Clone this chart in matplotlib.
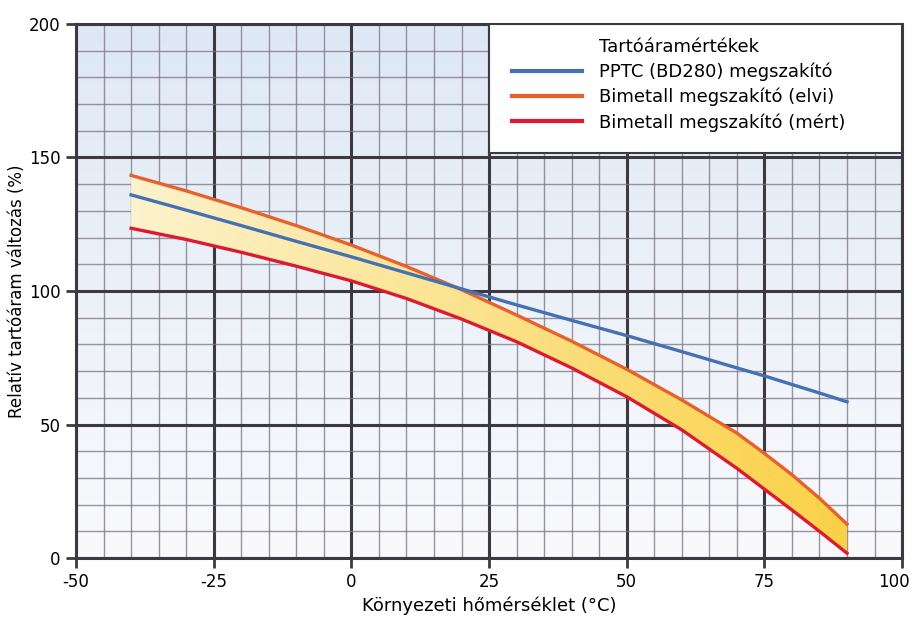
import numpy as np
import matplotlib
matplotlib.use("Agg")
from matplotlib import pyplot as plt
from matplotlib.lines import Line2D
from matplotlib.patches import Rectangle
from matplotlib.ticker import MultipleLocator
from matplotlib.transforms import ScaledTranslation

plt.rcParams['font.family'] = ['DejaVu Sans']
plt.rcParams['axes.unicode_minus'] = False

# values
temp = [-40, -30, -20, -10, 0, 10, 20, 30, 40, 50, 60, 70, 75, 80, 85, 90]
pptc = [136.0, 130.3, 124.5, 118.6, 112.8, 106.8, 100.8, 94.8, 89.0, 83.3, 77.3, 71.2, 68.2, 65.0, 61.8, 58.5]
bimetal_elvi = [143.3, 137.5, 131.2, 124.5, 117.2, 109.2, 100.5, 91.0, 81.2, 70.7, 59.2, 46.8, 39.2, 31.2, 22.4, 12.7]
bimetal_mert = [123.5, 119.3, 114.5, 109.3, 103.8, 97.2, 89.5, 81.0, 71.2, 60.4, 48.0, 33.6, 25.8, 18.0, 10.0, 1.8]

labels = ["PPTC (BD280) megszakító", "Bimetall megszakító (elvi)", "Bimetall megszakító (mért)"]
colors = ["#4470b4", "#e8602c", "#dc1a32"]
legend_title = "Tartóáramértékek"
xticks = [-50, -25, 0, 25, 50, 75, 100]
yticks = [0, 50, 100, 150, 200]

fig = plt.figure(figsize=(9.17, 6.21), dpi=100)
ax = fig.add_axes([0.0829, 0.1014, 0.9008, 0.86])
ax.set_xlim(-50, 100)
ax.set_ylim(0, 200)

# background gradient, light blue on top to near white at bottom
grad = np.linspace(0, 1, 512).reshape(-1, 1)
top = np.array([0.87, 0.91, 0.96])
bot = np.array([0.98, 0.98, 0.99])
bg = top * grad[..., None] + bot * (1 - grad[..., None])
ax.imshow(bg, extent=[0, 1, 0, 1], transform=ax.transAxes, origin="lower",
          aspect="auto", interpolation="bilinear", zorder=0)

# grid
ax.xaxis.set_major_locator(MultipleLocator(25))
ax.yaxis.set_major_locator(MultipleLocator(50))
ax.xaxis.set_minor_locator(MultipleLocator(5))
ax.yaxis.set_minor_locator(MultipleLocator(10))
ax.grid(True, which="minor", color="#78737f", lw=1.0, alpha=0.75, zorder=1)
ax.grid(True, which="major", color="#3c3a40", lw=2.2, zorder=1)
ax.set_axisbelow(True)
for s in ax.spines.values():
    s.set_color("#3c3a40")
    s.set_linewidth(2.2)

# yellow band between the bimetal curves, gradient left to right
poly = ax.fill_between(temp, bimetal_mert, bimetal_elvi, color="none", zorder=2)
hgrad = np.linspace(0, 1, 256).reshape(1, -1)
c_left = np.array([0.99, 0.95, 0.80])
c_right = np.array([0.98, 0.82, 0.28])
band = c_left * (1 - hgrad[..., None]) + c_right * hgrad[..., None]
im = ax.imshow(band, extent=[temp[0], temp[-1], 0, 200], origin="lower",
               aspect="auto", interpolation="bilinear", zorder=2)
path = poly.get_paths()[0]
im.set_clip_path(path, transform=ax.transData)

ax.plot(temp, pptc, color=colors[0], lw=2.4, zorder=4)
ax.plot(temp, bimetal_elvi, color=colors[1], lw=2.4, zorder=3)
ax.plot(temp, bimetal_mert, color=colors[2], lw=2.4, zorder=3)

ax.set_xticks(xticks)
ax.set_yticks(yticks)
ax.tick_params(which="major", length=7, width=2, color="#3c3a40", labelsize=12, pad=4)
ax.tick_params(which="minor", length=0)
ax.set_xlabel("Környezeti hőmérséklet (°C)", fontsize=13, labelpad=4)
ax.set_ylabel("Relatív tartóáram változás (%)", fontsize=12)
ax.yaxis.set_label_coords(-0.061, 0.5)

# the last x label sits a bit left so it stays inside the figure
fig.canvas.draw()
last = ax.get_xticklabels()[-1]
last.set_transform(last.get_transform() + ScaledTranslation(-8 / 100, 0, fig.dpi_scale_trans))

# legend box
ax.add_patch(Rectangle((25, 151.5), 75, 48.5, facecolor="white", edgecolor="#3c3a40",
                       lw=1.5, zorder=5))
handles = [Line2D([], [], color="none")] + [Line2D([], [], color=c, lw=3) for c in colors]
leg = ax.legend(handles, [legend_title] + labels, loc="upper left",
                bbox_to_anchor=(0.508, 1.005), frameon=False, fontsize=13,
                handlelength=3.9, handletextpad=0.9, labelspacing=0.38)
leg.set_zorder(6)

fig.savefig("out.png", dpi=100)
